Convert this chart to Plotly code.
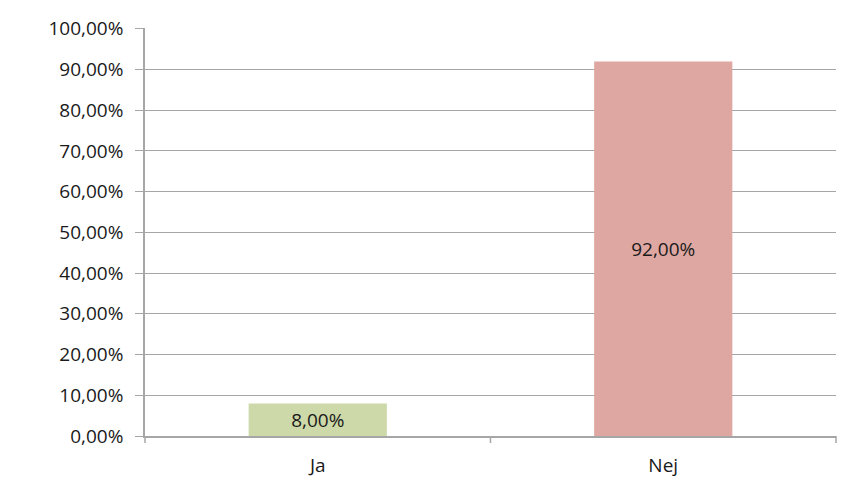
import plotly.graph_objects as go

categories = ["Ja", "Nej"]
values = [8.0, 92.0]
labels = ["8,00%", "92,00%"]
colors = ["#cdd9a8", "#dea7a2"]
y_ticks = [0, 10, 20, 30, 40, 50, 60, 70, 80, 90, 100]
y_tick_labels = [f"{v:.2f}".replace(".", ",") + "%" for v in y_ticks]

FONT = "Open Sans"
GRID = "#a6a6a6"

fig = go.Figure(
    go.Bar(
        x=categories,
        y=values,
        marker=dict(color=colors, line=dict(width=0)),
        text=labels,
        textposition="inside",
        insidetextanchor="middle",
        textfont=dict(family=FONT, size=19, color="#1a1a1a"),
        width=0.4,
    )
)

# category boundary tick marks below the x axis (paper coordinates)
n = len(categories)
tick_len = 7 / 408
boundary_ticks = [
    dict(type="line", xref="paper", yref="paper", x0=i / n, x1=i / n,
         y0=0, y1=-tick_len, line=dict(color=GRID, width=1.5))
    for i in range(n + 1)
]

fig.update_layout(
    width=830,
    height=480,
    margin=dict(l=137, r=2, t=20, b=52),
    plot_bgcolor="white",
    paper_bgcolor="white",
    showlegend=False,
    font=dict(family=FONT, size=19, color="#1a1a1a"),
    uniformtext=dict(mode="show", minsize=19),
    shapes=boundary_ticks,
)
fig.update_yaxes(
    range=[0, 100.2],
    tickvals=y_ticks,
    ticktext=y_tick_labels,
    showgrid=True,
    gridcolor=GRID,
    gridwidth=1.3,
    showline=True,
    linecolor=GRID,
    linewidth=1.5,
    ticks="outside",
    ticklen=8,
    tickcolor=GRID,
    zeroline=False,
    ticklabelstandoff=8,
)
fig.update_xaxes(
    showline=True,
    linecolor=GRID,
    linewidth=1.5,
    ticks="",
    showgrid=False,
    ticklabelstandoff=11,
)

fig.write_html("out.html")
